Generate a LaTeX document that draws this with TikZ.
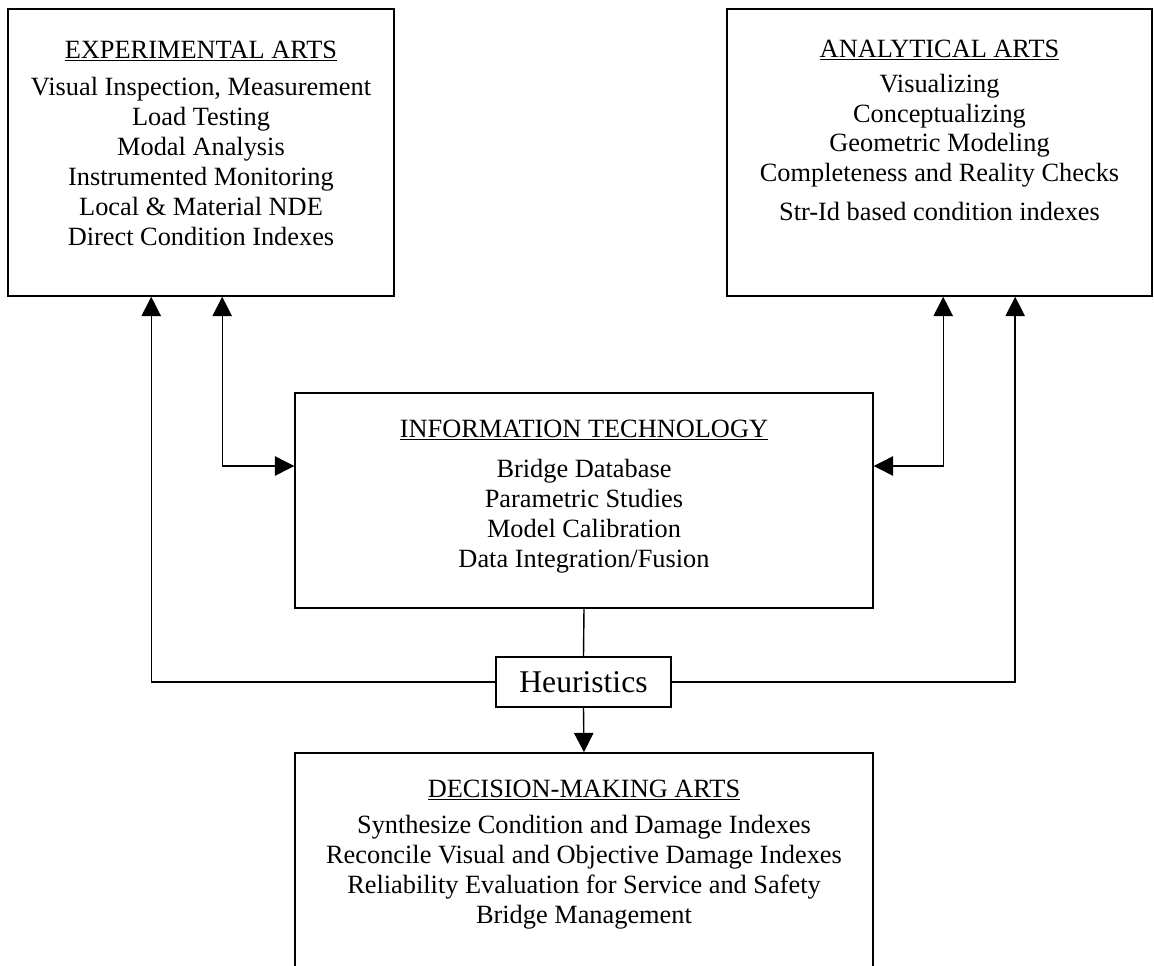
\documentclass[tikz,border=0pt]{standalone}
\usepackage{fontspec}
\setmainfont{Liberation Serif}
\usetikzlibrary{positioning,arrows.meta}

\tikzset{
  artbox/.style={draw, line width=0.9pt, inner sep=0pt},
  arttext/.style={align=center, inner sep=0pt, font=\fontsize{15}{17}\selectfont},
  flow/.style={line width=0.8pt, arrows={-Triangle[length=11pt,width=11pt]}},
  flowboth/.style={line width=0.8pt, arrows={Triangle[length=11pt,width=11pt]-Triangle[length=11pt,width=11pt]}}
}

\begin{document}
\begin{tikzpicture}[x=0.02cm, y=-0.02cm]
    \useasboundingbox (0,0) rectangle (1154,966);
    \clip (0,0) rectangle (1154,966);

    % the four boxes
    \node[artbox, minimum width=7.72cm, minimum height=5.74cm] (exp) at (201,152.5) {};
    \node[artbox, minimum width=8.5cm, minimum height=5.74cm] (ana) at (939.5,152.5) {};
    \node[artbox, minimum width=11.56cm, minimum height=4.3cm] (it) at (584,500.5) {};
    \node[artbox, minimum width=11.56cm, minimum height=6cm] (dec) at (584,903) {};
    \node[artbox, minimum width=3.5cm, minimum height=1cm, font=\fontsize{18}{20}\selectfont] (heur) at (583.5,682) {Heuristics};

    % the texts in the boxes
    \node[arttext, below=0.64cm of exp.north] (exptxt) {\underline{EXPERIMENTAL ARTS}\\[4.5pt]
      Visual Inspection, Measurement\\ Load Testing\\ Modal Analysis\\
      Instrumented Monitoring\\ Local \& Material NDE\\ Direct Condition Indexes};
    \node[arttext, below=0.62cm of ana.north] (anatxt) {\underline{ANALYTICAL ARTS}\\[3pt]
      Visualizing\\ Conceptualizing\\ Geometric Modeling\\
      Completeness and Reality Checks\\[5pt] Str-Id based condition indexes};
    \node[arttext, below=0.54cm of it.north] (ittxt) {\underline{INFORMATION TECHNOLOGY}\\[6pt]
      Bridge Database\\ Parametric Studies\\ Model Calibration\\ Data Integration/Fusion};
    \node[arttext, below=0.54cm of dec.north] (dectxt) {\underline{DECISION-MAKING ARTS}\\[4pt]
      Synthesize Condition and Damage Indexes\\ Reconcile Visual and Objective Damage Indexes\\
      Reliability Evaluation for Service and Safety\\ Bridge Management};

    % the connectors
    \draw[flowboth] ([xshift=4.3cm]exp.south west) |- ([yshift=0.69cm]it.west);
    \draw[flowboth] ([xshift=4.34cm]ana.south west) |- ([yshift=0.69cm]it.east);
    \draw[flow] (heur.west) -| ([xshift=2.88cm]exp.south west);
    \draw[flow] (heur.east) -| ([xshift=5.78cm]ana.south west);
    \draw[line width=0.8pt] (it.south) -- (heur.north);
    \draw[flow] (heur.south) -- (dec.north);

\end{tikzpicture}
\end{document}
